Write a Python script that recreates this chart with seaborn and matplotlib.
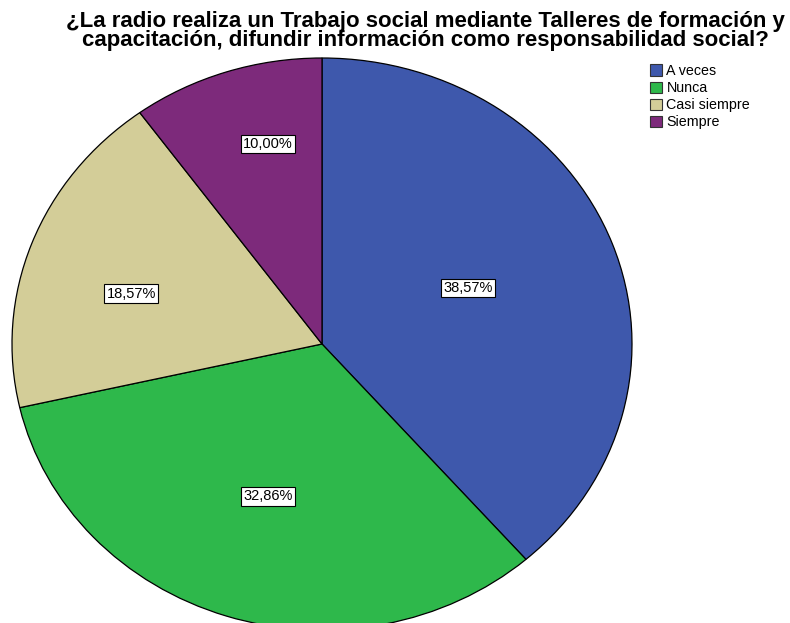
import numpy as np
import matplotlib
matplotlib.use("Agg")
import matplotlib.pyplot as plt
import seaborn as sns
from matplotlib.patches import Patch

# Survey responses (n = 70)
categories = ["A veces", "Nunca", "Casi siempre", "Siempre"]
counts = [27, 23, 13, 7]
pct_labels = ["38,57%", "32,86%", "18,57%", "10,00%"]
title = ("¿La radio realiza un Trabajo social mediante Talleres de formación y\n"
         "capacitación, difundir información como responsabilidad social?")

sns.set_theme(style="white")
plt.rcParams["font.family"] = ["Liberation Sans", "DejaVu Sans"]
plt.rcParams["text.color"] = "black"

colors = ["#3e58ac", "#2eb84b", "#d3cd98", "#7d2a7b"]

W, H = 790, 623
fig = plt.figure(figsize=(W / 100, H / 100), dpi=100)

# pie ellipse: centre (322, 344) px, radii 310 x 286 px
cx, cy, rx, ry = 322, 344, 310, 286
ax = fig.add_axes([(cx - rx) / W, (H - cy - ry) / H, 2 * rx / W, 2 * ry / H])

wedges, _ = ax.pie(counts, colors=colors, startangle=90, counterclock=False,
                   wedgeprops=dict(edgecolor="black", linewidth=0.9),
                   normalize=True)
ax.set_aspect("auto")
ax.set_xlim(-1, 1)
ax.set_ylim(-1, 1)
ax.axis("off")
for w in wedges:
    w.set_clip_on(False)

# percentage labels near the mid-angle of each wedge
label_r = [0.51, 0.56, 0.64, 0.72]
label_shift = [-2, 0, -4.6, 4]  # degrees, clockwise
for w, txt, r, d in zip(wedges, pct_labels, label_r, label_shift):
    mid = np.deg2rad((w.theta1 + w.theta2) / 2 - d)
    ax.text(r * np.cos(mid), r * np.sin(mid), txt, ha="center", va="center",
            fontsize=10.5, color="black",
            bbox=dict(boxstyle="square,pad=0.15", fc="white", ec="black", lw=0.8))

fig.suptitle(title, x=0.538, y=0.982, fontsize=16, fontweight="bold",
             linespacing=0.88, va="top", color="black")

handles = [Patch(facecolor=c, edgecolor="#333333", linewidth=0.8) for c in colors]
fig.legend(handles, categories, loc="upper left", bbox_to_anchor=(640 / W, 1 - 54 / H),
           frameon=False, fontsize=10.3, handlelength=0.85, handleheight=0.85,
           handletextpad=0.3, labelspacing=0.22, borderpad=0.2, labelcolor="black")

fig.savefig("out.png", dpi=100)
